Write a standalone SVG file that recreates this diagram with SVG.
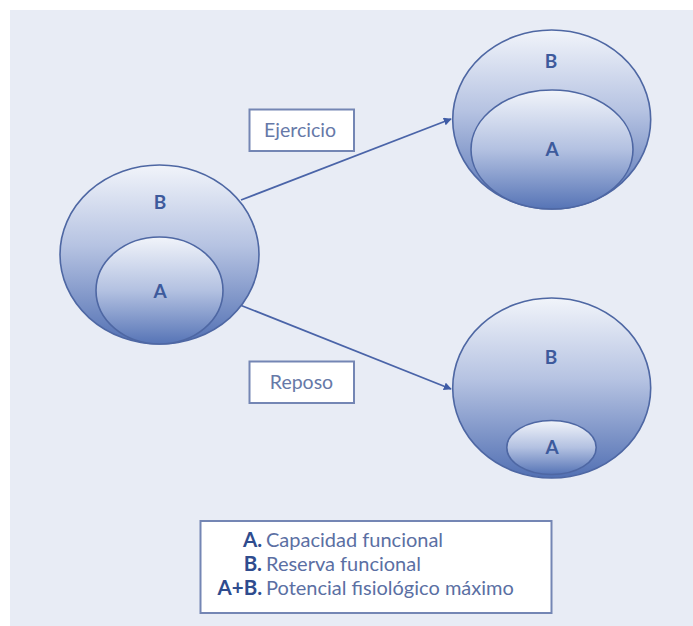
<svg xmlns="http://www.w3.org/2000/svg" width="693" height="626" viewBox="0 0 693 626">
<defs>
<linearGradient id="gOuter" x1="0" y1="0" x2="0" y2="1">
<stop offset="0" stop-color="#f1f4fa"/>
<stop offset="0.45" stop-color="#b6c3e2"/>
<stop offset="1" stop-color="#5270b3"/>
</linearGradient>
<linearGradient id="gInner" x1="0" y1="0" x2="0" y2="1">
<stop offset="0" stop-color="#f1f4fa"/>
<stop offset="0.5" stop-color="#b3c1e1"/>
<stop offset="1" stop-color="#5674b6"/>
</linearGradient>
<marker id="arr" viewBox="0 0 10 10" refX="9" refY="5" markerWidth="8" markerHeight="8" orient="auto" markerUnits="userSpaceOnUse">
<path d="M0,0 L10,5 L0,10 z" fill="#3f5ca6"/>
</marker>
</defs>
<style>
.outer{fill:url(#gOuter);stroke:#4e67a3;stroke-width:1.6}
.inner{fill:url(#gInner);stroke:#4e67a3;stroke-width:1.6}
.lbl{font-family:Lato,"Open Sans",sans-serif;font-weight:bold;font-size:19px;fill:#3d5a9c;text-anchor:middle}
.box{fill:#ffffff;stroke:#7486b4;stroke-width:2}
.btxt{font-family:Lato,"Open Sans",sans-serif;font-size:19.5px;fill:#6679a8;text-anchor:middle}
.conn{stroke:#4a64a8;stroke-width:1.8;fill:none}
.lk{font-family:Lato,"Open Sans",sans-serif;font-weight:bold;font-size:20.5px;fill:#2f4c8e;text-anchor:end}
.ld{font-family:Lato,"Open Sans",sans-serif;font-size:20px;fill:#5b6fa3}
</style>
<rect x="0" y="0" width="693" height="626" fill="#ffffff"/>
<rect x="10" y="10" width="683" height="616" fill="#e8ecf5"/>

<g id="connectors">
<line class="conn" x1="241" y1="200" x2="451" y2="119" marker-end="url(#arr)"/>
<line class="conn" x1="240" y1="305" x2="451" y2="389" marker-end="url(#arr)"/>
</g>

<g id="node-initial">
<ellipse class="outer" cx="159.5" cy="254.5" rx="99.5" ry="89.5"/>
<ellipse class="inner" cx="159.5" cy="290.5" rx="63.5" ry="53.5"/>
<text class="lbl" x="160" y="209">B</text>
<text class="lbl" x="160" y="298">A</text>
</g>

<g id="node-ejercicio-result">
<ellipse class="outer" cx="551.7" cy="119.5" rx="99" ry="89.5"/>
<ellipse class="inner" cx="552" cy="149.5" rx="81" ry="59.5"/>
<text class="lbl" x="551" y="68">B</text>
<text class="lbl" x="552" y="156">A</text>
</g>

<g id="node-reposo-result">
<ellipse class="outer" cx="551.7" cy="388" rx="99" ry="90"/>
<ellipse class="inner" cx="551.5" cy="447.5" rx="44.7" ry="27"/>
<text class="lbl" x="551" y="364">B</text>
<text class="lbl" x="552" y="454">A</text>
</g>

<g id="label-ejercicio">
<rect class="box" x="249.5" y="109.5" width="104.5" height="41.5"/>
<text class="btxt" x="300" y="137">Ejercicio</text>
</g>

<g id="label-reposo">
<rect class="box" x="249.5" y="361.5" width="104.5" height="41.5"/>
<text class="btxt" x="301.5" y="388.5">Reposo</text>
</g>

<g id="legend">
<rect class="box" x="200.5" y="521" width="351" height="92"/>
<text class="lk" x="262" y="547">A.</text>
<text class="ld" x="266" y="547">Capacidad funcional</text>
<text class="lk" x="262" y="571">B.</text>
<text class="ld" x="266" y="571">Reserva funcional</text>
<text class="lk" x="262" y="595">A+B.</text>
<text class="ld" x="266" y="595">Potencial fisiológico máximo</text>
</g>
</svg>
